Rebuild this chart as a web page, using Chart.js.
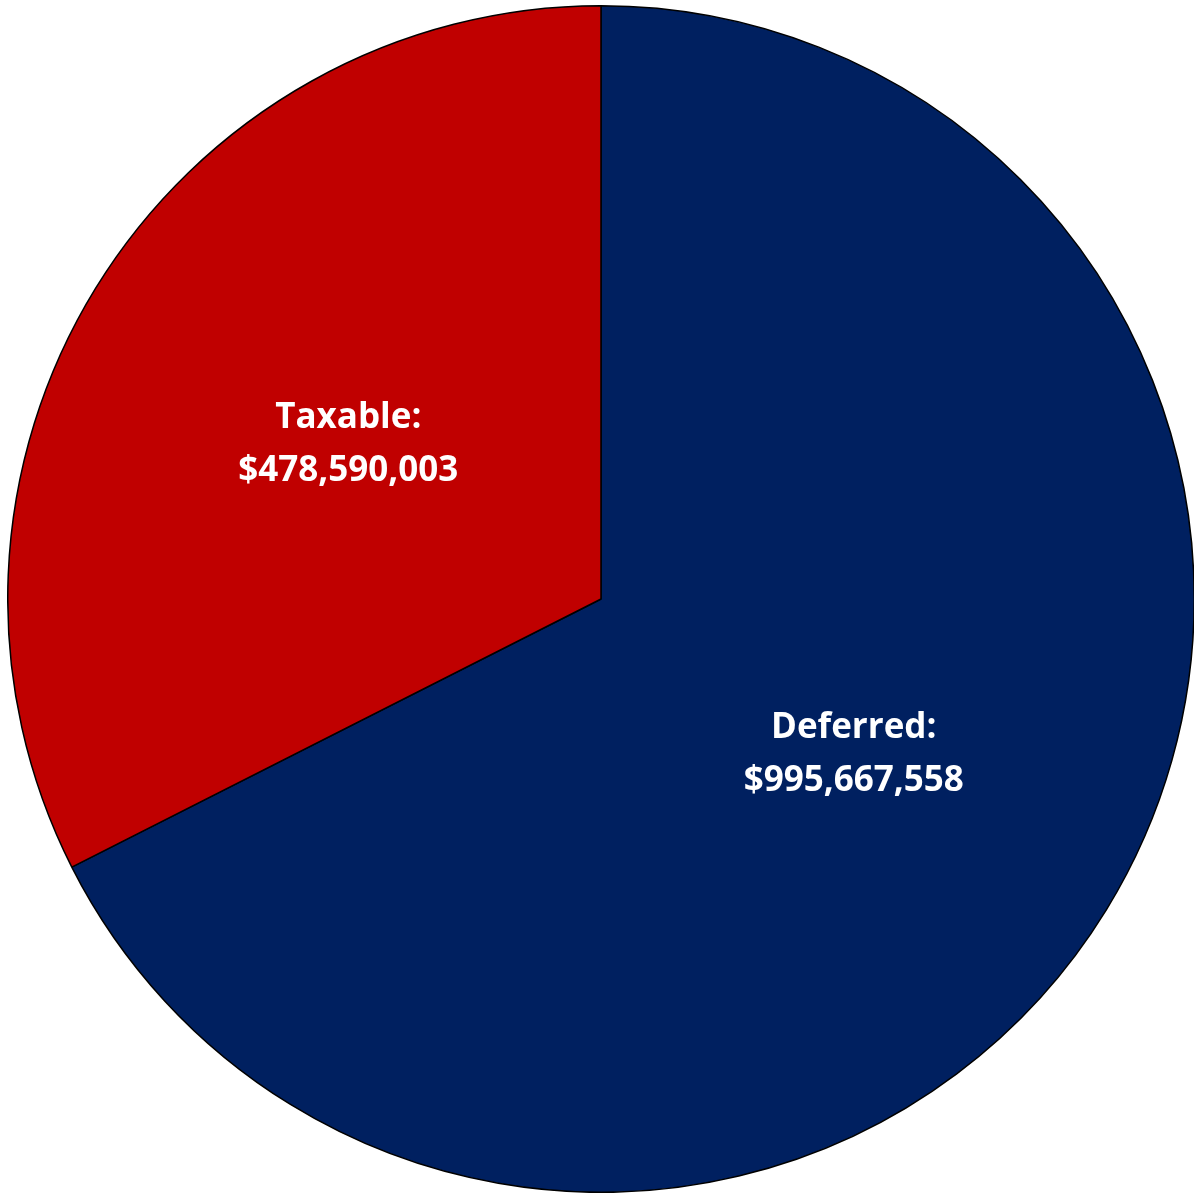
<!DOCTYPE html>
<html>
<head>
<meta charset="utf-8">
<script src="https://cdn.jsdelivr.net/npm/chart.js@4/dist/chart.umd.min.js"></script>
<style>
  html, body { margin: 0; padding: 0; background: #fff; }
  #wrap { position: absolute; left: 7px; top: 5px; width: 1188px; height: 1188px; }
</style>
</head>
<body>
<div id="wrap"><canvas id="myChart"></canvas></div>
<script>
const labels = ['Deferred', 'Taxable'];
const values = [995667558, 478590003];
const colors = ['#002060', '#C00000'];

// draws "Label:" and "$amount" in the middle of each slice
const sliceLabels = {
    id: 'sliceLabels',
    afterDatasetsDraw(chart) {
        const ctx = chart.ctx;
        const meta = chart.getDatasetMeta(0);
        ctx.save();
        ctx.fillStyle = '#ffffff';
        ctx.font = 'bold 35px "Open Sans", sans-serif';
        ctx.textAlign = 'center';
        ctx.textBaseline = 'middle';
        meta.data.forEach(function(arc, i) {
            const p = arc.tooltipPosition();
            ctx.fillText(labels[i] + ':', p.x, p.y - 26);
            ctx.fillText('$' + values[i].toLocaleString('en-US'), p.x, p.y + 27);
        });
        ctx.restore();
    }
};

let ctx = document.getElementById('myChart').getContext('2d');
let myChart = new Chart(ctx, {
    type: 'pie',
    data: {
        labels: labels,
        datasets: [{
            data: values,
            backgroundColor: colors,
            borderColor: '#000000',
            borderWidth: 1.5
        }]
    },
    options: {
        responsive: true,
        maintainAspectRatio: false,
        animation: false,
        plugins: {
            legend: { display: false },
            tooltip: { enabled: false }
        }
    },
    plugins: [sliceLabels]
});
</script>
</body>
</html>
